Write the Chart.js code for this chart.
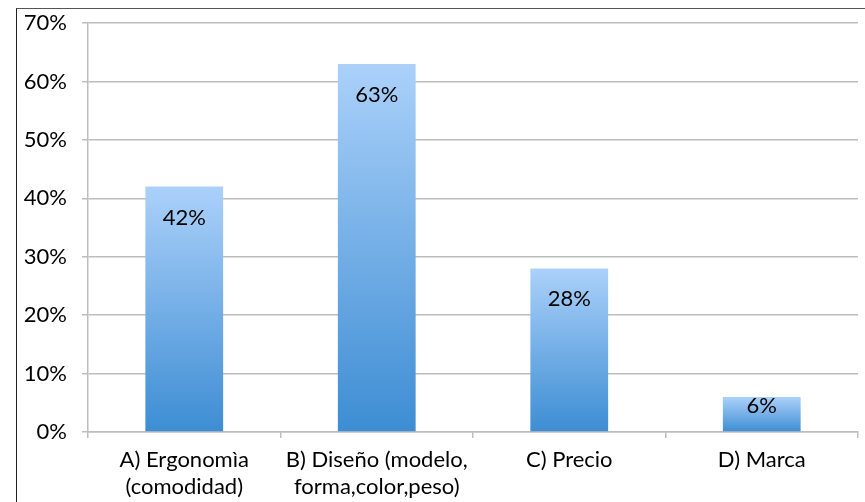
<!DOCTYPE html>
<html>
<head>
<meta charset="utf-8">
<script src="https://cdn.jsdelivr.net/npm/chart.js@4"></script>
<style>
  html, body { margin: 0; padding: 0; background: #fff; }
  #wrap { position: relative; width: 865px; height: 502px; overflow: hidden; }
  #frame { position: absolute; left: 16px; top: 8px; width: 900px; height: 600px;
           border-left: 1.5px solid #222; border-top: 1.5px solid #555; }
  canvas { position: absolute; left: 0; top: 0; }
</style>
</head>
<body>
<div id="wrap">
  <div id="frame"></div>
  <canvas id="c" width="865" height="502"></canvas>
</div>
<script>
const categories = [
  ["A) Ergonomìa", "(comodidad)"],
  ["B) Diseño (modelo,", "forma,color,peso)"],
  ["C) Precio"],
  ["D) Marca"]
];
const values = [42, 63, 28, 6];
const yTicks = [0, 10, 20, 30, 40, 50, 60, 70];

const FONT = "Lato, 'Open Sans', sans-serif";

function barGradient(ctx) {
  const chart = ctx.chart;
  const y = chart.scales && chart.scales.y;
  if (!y || !chart.chartArea) return '#6aaae6';
  const v = ctx.raw;
  const top = y.getPixelForValue(v);
  const bottom = y.getPixelForValue(0);
  const g = chart.ctx.createLinearGradient(0, top, 0, bottom);
  g.addColorStop(0, '#abd1fa');
  g.addColorStop(1, '#3d8dd3');
  return g;
}

const labelPlugin = {
  id: 'barLabels',
  afterDatasetsDraw(chart) {
    const c = chart.ctx;
    const meta = chart.getDatasetMeta(0);
    c.save();
    c.font = "22px " + FONT;
    c.fillStyle = '#000';
    c.textAlign = 'center';
    c.textBaseline = 'middle';
    meta.data.forEach((bar, i) => {
      const h = bar.base - bar.y;
      const off = Math.min(31, h * 0.26);
      c.fillText(values[i] + '%', bar.x, bar.y + off);
    });
    c.restore();
  }
};

new Chart(document.getElementById('c'), {
  type: 'bar',
  data: {
    labels: categories,
    datasets: [{
      data: values,
      backgroundColor: barGradient,
      borderWidth: 0,
      barPercentage: 0.8,
      categoryPercentage: 0.505
    }]
  },
  options: {
    responsive: false,
    animation: false,
    layout: { padding: { left: 0, right: 7, top: 23, bottom: 0 } },
    plugins: { legend: { display: false }, tooltip: { enabled: false } },
    scales: {
      y: {
        min: 0, max: 70,
        afterBuildTicks(scale) { scale.ticks = yTicks.map(v => ({ value: v })); },
        afterFit(scale) { scale.width = 88; scale.paddingTop = 0; scale.paddingBottom = 0; },
        ticks: {
          callback: v => v + '%',
          font: { family: FONT, size: 22 },
          color: '#000',
          padding: 15
        },
        grid: { color: '#bdbdbd', lineWidth: 1.5, tickLength: 6, tickColor: '#bdbdbd' },
        border: { color: '#bdbdbd', width: 1.5 }
      },
      x: {
        afterFit(scale) { scale.height = 70; scale.paddingLeft = 0; scale.paddingRight = 0; },
        ticks: {
          font: { family: FONT, size: 22, lineHeight: 1.23 },
          color: '#000',
          padding: 8,
          maxRotation: 0,
          autoSkip: false
        },
        grid: { offset: true, drawOnChartArea: false, color: '#bdbdbd', lineWidth: 1.5, tickLength: 6 },
        border: { color: '#bdbdbd', width: 1.5 }
      }
    }
  },
  plugins: [labelPlugin]
});
</script>
</body>
</html>
